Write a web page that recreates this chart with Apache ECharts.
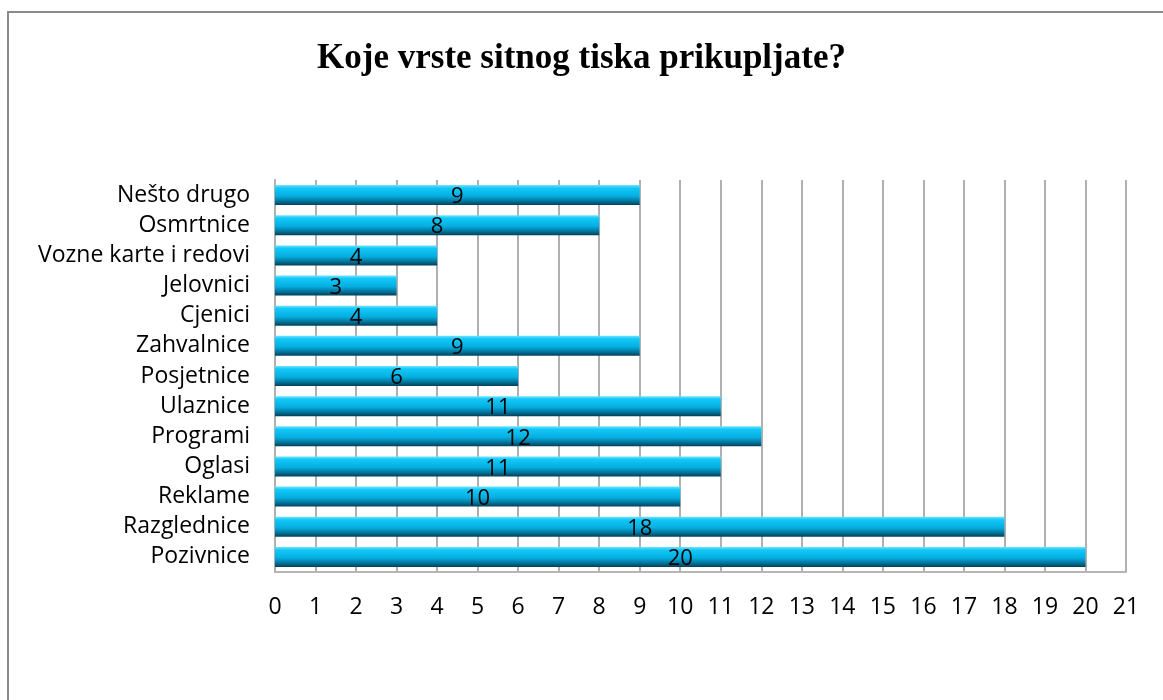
<!DOCTYPE html>
<html>
<head>
<meta charset="utf-8">
<script src="https://cdn.jsdelivr.net/npm/echarts@6/dist/echarts.min.js"></script>
<style>
  html, body { margin: 0; padding: 0; background: #fff; }
  #chart { width: 1163px; height: 700px; }
</style>
</head>
<body>
<div id="chart"></div>
<script>
// kategorije odozdo prema gore (kao na slici)
var categories = ["Pozivnice", "Razglednice", "Reklame", "Oglasi", "Programi", "Ulaznice",
  "Posjetnice", "Zahvalnice", "Cjenici", "Jelovnici", "Vozne karte i redovi", "Osmrtnice", "Nešto drugo"];
var counts = [20, 18, 10, 11, 12, 11, 6, 9, 4, 3, 4, 8, 9];
var xTicks = [0, 21]; // min, max

var chart = echarts.init(document.getElementById("chart"));

var barColor = new echarts.graphic.LinearGradient(0, 0, 0, 1, [
  { offset: 0, color: "#6fe3ff" },
  { offset: 0.15, color: "#12c8f8" },
  { offset: 0.55, color: "#05aee0" },
  { offset: 0.8, color: "#03759c" },
  { offset: 1, color: "#00405a" }
]);

chart.setOption({
  animation: false,
  title: {
    text: "Koje vrste sitnog tiska prikupljate?",
    left: "center",
    top: 36,
    textStyle: {
      fontFamily: "Liberation Serif",
      fontWeight: "bold",
      fontSize: 35,
      color: "#000"
    }
  },
  graphic: [
    {
      type: "rect",
      shape: { x: 8, y: 12, width: 1170, height: 720 },
      style: { fill: "none", stroke: "#8a8a8a", lineWidth: 2 }
    }
  ],
  grid: {
    left: 275,
    right: 37,
    top: 180,
    bottom: 128
  },
  xAxis: {
    type: "value",
    min: xTicks[0],
    max: xTicks[1],
    interval: 1,
    axisLine: { show: true, lineStyle: { color: "#b5b5b5", width: 2 } },
    axisTick: { show: false },
    axisLabel: {
      margin: 24,
      fontFamily: "Open Sans",
      fontSize: 23,
      hideOverlap: false,
      color: "#000"
    },
    splitLine: {
      show: true,
      lineStyle: { color: "#b0b0b0", width: 2 }
    }
  },
  yAxis: {
    type: "category",
    data: categories,
    axisLine: { show: true, lineStyle: { color: "#b0b0b0", width: 2 } },
    axisTick: { show: false },
    axisLabel: {
      margin: 25,
      fontFamily: "Open Sans",
      fontSize: 23,
      color: "#000"
    },
    splitLine: { show: false }
  },
  series: [
    {
      type: "bar",
      data: counts,
      barWidth: 20,
      itemStyle: { color: barColor },
      label: {
        show: true,
        position: "inside",
        offset: [0, 2],
        fontFamily: "Open Sans",
        fontSize: 22,
        color: "#000"
      }
    }
  ]
});
</script>
</body>
</html>
